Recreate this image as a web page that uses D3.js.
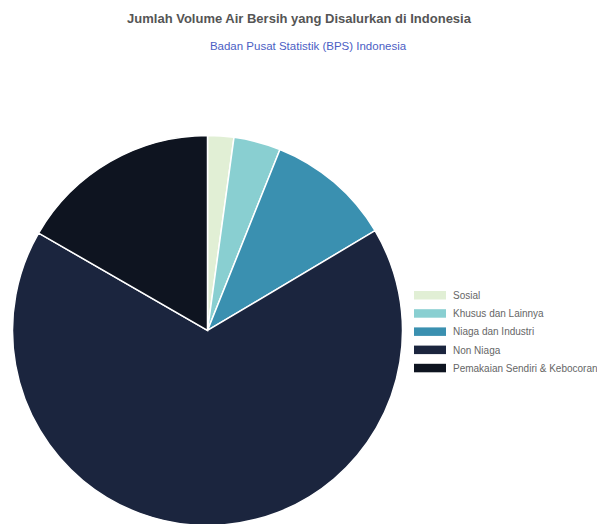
<!DOCTYPE html>
<html>
<head>
<meta charset="utf-8">
<script src="https://cdn.jsdelivr.net/npm/d3@7"></script>
<style>
html,body{margin:0;padding:0;background:#fff;}
svg{display:block;font-family:"Liberation Sans",Arial,sans-serif;}
</style>
</head>
<body>
<svg id="chart" width="597" height="524"></svg>
<script>
const categories = ["Sosial", "Khusus dan Lainnya", "Niaga dan Industri", "Non Niaga", "Pemakaian Sendiri & Kebocoran"];
const values = [2.17, 3.89, 10.39, 66.88, 16.67];
const colors = ["#e1efd5", "#89cfd1", "#3a90b0", "#1b253e", "#0e1420"];
const titleText = "Jumlah Volume Air Bersih yang Disalurkan di Indonesia";
const subtitleText = "Badan Pusat Statistik (BPS) Indonesia";

const svg = d3.select("#chart");
const W = 597, H = 524;

svg.append("text").attr("x", 299).attr("y", 23).attr("text-anchor", "middle")
  .attr("font-size", 13).attr("font-weight", "bold").attr("fill", "#555")
  .text(titleText);
svg.append("text").attr("x", 308).attr("y", 50).attr("text-anchor", "middle")
  .attr("font-size", 11.5).attr("fill", "#4b5ec4")
  .text(subtitleText);

const data = categories.map((c, i) => ({cat: c, value: values[i]}));
const color = d3.scaleOrdinal().domain(categories).range(colors);
const pie = d3.pie().value(d => d.value).sort(null);
const arc = d3.arc().innerRadius(0).outerRadius(195);

const g = svg.append("g").attr("transform", "translate(207.5,330.5)");
g.selectAll("path").data(pie(data)).join("path")
  .attr("d", arc)
  .attr("fill", d => color(d.data.cat))
  .attr("stroke", "#fff")
  .attr("stroke-width", 1.5);

const legend = svg.append("g").attr("transform", "translate(414,291)");
const li = legend.selectAll("g").data(categories).join("g")
  .attr("transform", (d, i) => `translate(0,${i * 18.2})`);
li.append("rect").attr("width", 32).attr("height", 8.5).attr("fill", d => color(d));
li.append("text").attr("x", 39).attr("y", 4.5).attr("dy", "0.35em")
  .attr("font-size", 10).attr("fill", "#666").text(d => d);
</script>
</body>
</html>
